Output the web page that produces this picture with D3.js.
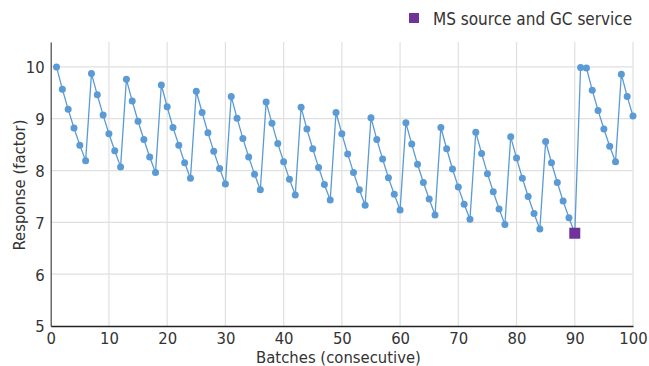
<!DOCTYPE html>
<html>
<head>
<meta charset="utf-8">
<script src="https://cdn.jsdelivr.net/npm/d3@7"></script>
<style>
  html, body { margin: 0; padding: 0; background: #fff; }
  svg text { font-family: "Liberation Sans Narrow", "DejaVu Sans Condensed", "Roboto", sans-serif; fill: #333; }
</style>
</head>
<body>
<svg id="chart" width="649" height="366"></svg>
<script>
// Batch number (consecutive)
const batches = d3.range(1, 101);
// Response (factor) for each batch 1..100
const responses = [
  10.00, 9.57, 9.18, 8.82, 8.49, 8.19,
  9.87, 9.46, 9.07, 8.71, 8.38, 8.07,
  9.76, 9.34, 8.95, 8.60, 8.26, 7.96,
  9.65, 9.23, 8.83, 8.49, 8.15, 7.85,
  9.53, 9.12, 8.73, 8.37, 8.04, 7.74,
  9.43, 9.01, 8.62, 8.26, 7.93, 7.63,
  9.32, 8.91, 8.52, 8.17, 7.83, 7.53,
  9.22, 8.80, 8.42, 8.06, 7.73, 7.43,
  9.12, 8.71, 8.32, 7.96, 7.63, 7.33,
  9.02, 8.60, 8.22, 7.86, 7.54, 7.24,
  8.92, 8.51, 8.12, 7.77, 7.45, 7.14,
  8.83, 8.42, 8.03, 7.68, 7.35, 7.06,
  8.74, 8.33, 7.94, 7.59, 7.26, 6.96,
  8.65, 8.24, 7.85, 7.50, 7.17, 6.87,
  8.56, 8.15, 7.77, 7.41, 7.09, 6.79,
  9.99, 9.98, 9.55, 9.16, 8.80, 8.47, 8.17,
  9.86, 9.43, 9.05
];
// Highlighted event
const eventBatches = [90];
const eventValues = [6.79];
const eventLabel = "MS source and GC service";
const xTicks = [0, 10, 20, 30, 40, 50, 60, 70, 80, 90, 100];
const yTicks = [5, 6, 7, 8, 9, 10];
const xTitle = "Batches (consecutive)";
const yTitle = "Response (factor)";

const data = batches.map((b, i) => ({ x: b, y: responses[i] }));
const events = eventBatches.map((b, i) => ({ x: b, y: eventValues[i] }));

const svg = d3.select("#chart");
const x = d3.scaleLinear().domain([0, 100]).range([50.7, 633]);
const y = d3.scaleLinear().domain([5, 10.48]).range([326, 42]);

// gridlines
svg.append("g").selectAll("line").data(xTicks.filter(d => d > 0)).join("line")
  .attr("x1", d => x(d)).attr("x2", d => x(d))
  .attr("y1", y(5)).attr("y2", y(10.48))
  .attr("stroke", "#e0e0e0").attr("stroke-width", 1.2);
svg.append("g").selectAll("line").data(yTicks.filter(d => d > 5)).join("line")
  .attr("x1", x(0)).attr("x2", x(100))
  .attr("y1", d => y(d)).attr("y2", d => y(d))
  .attr("stroke", "#e0e0e0").attr("stroke-width", 1.2);

// axes
const xAxis = svg.append("g").attr("transform", `translate(0,${y(5)})`)
  .call(d3.axisBottom(x).tickValues(xTicks).tickFormat(d3.format("d")).tickSize(0).tickPadding(6));
xAxis.select(".domain").attr("stroke", "#222").attr("stroke-width", 1.5);

const yAxis = svg.append("g").attr("transform", `translate(${x(0)},0)`)
  .call(d3.axisLeft(y).tickValues(yTicks).tickFormat(d3.format("d")).tickSize(0).tickPadding(6));
yAxis.select(".domain").attr("stroke", "#444").attr("stroke-width", 1.2);

svg.selectAll(".tick text").attr("font-family", null).attr("font-size", 16.5).attr("fill", "#333");
yAxis.selectAll(".tick text").attr("dy", "0.36em");

// line
svg.append("path").datum(data)
  .attr("fill", "none").attr("stroke", "#5b9bd5").attr("stroke-width", 1.3)
  .attr("d", d3.line().x(d => x(d.x)).y(d => y(d.y)));

svg.append("g").selectAll("circle").data(data).join("circle")
  .attr("cx", d => x(d.x)).attr("cy", d => y(d.y)).attr("r", 3.5)
  .attr("fill", "#5b9bd5");

// event square
const sq = 11;
svg.append("g").selectAll("rect").data(events).join("rect")
  .attr("x", d => x(d.x) - sq / 2).attr("y", d => y(d.y) - sq / 2)
  .attr("width", sq).attr("height", sq).attr("fill", "#6f3399");

// legend
svg.append("rect").attr("x", 409).attr("y", 13).attr("width", 10).attr("height", 10).attr("fill", "#6f3399");
svg.append("text").attr("x", 433).attr("y", 24.5).attr("font-size", 17).text(eventLabel);

// titles
svg.append("text").attr("x", 338.5).attr("y", 363).attr("text-anchor", "middle")
  .attr("font-size", 16.5).text(xTitle);
svg.append("text").attr("transform", `translate(25,${185}) rotate(-90)`).attr("text-anchor", "middle")
  .attr("font-size", 16.5).text(yTitle);
</script>
</body>
</html>
